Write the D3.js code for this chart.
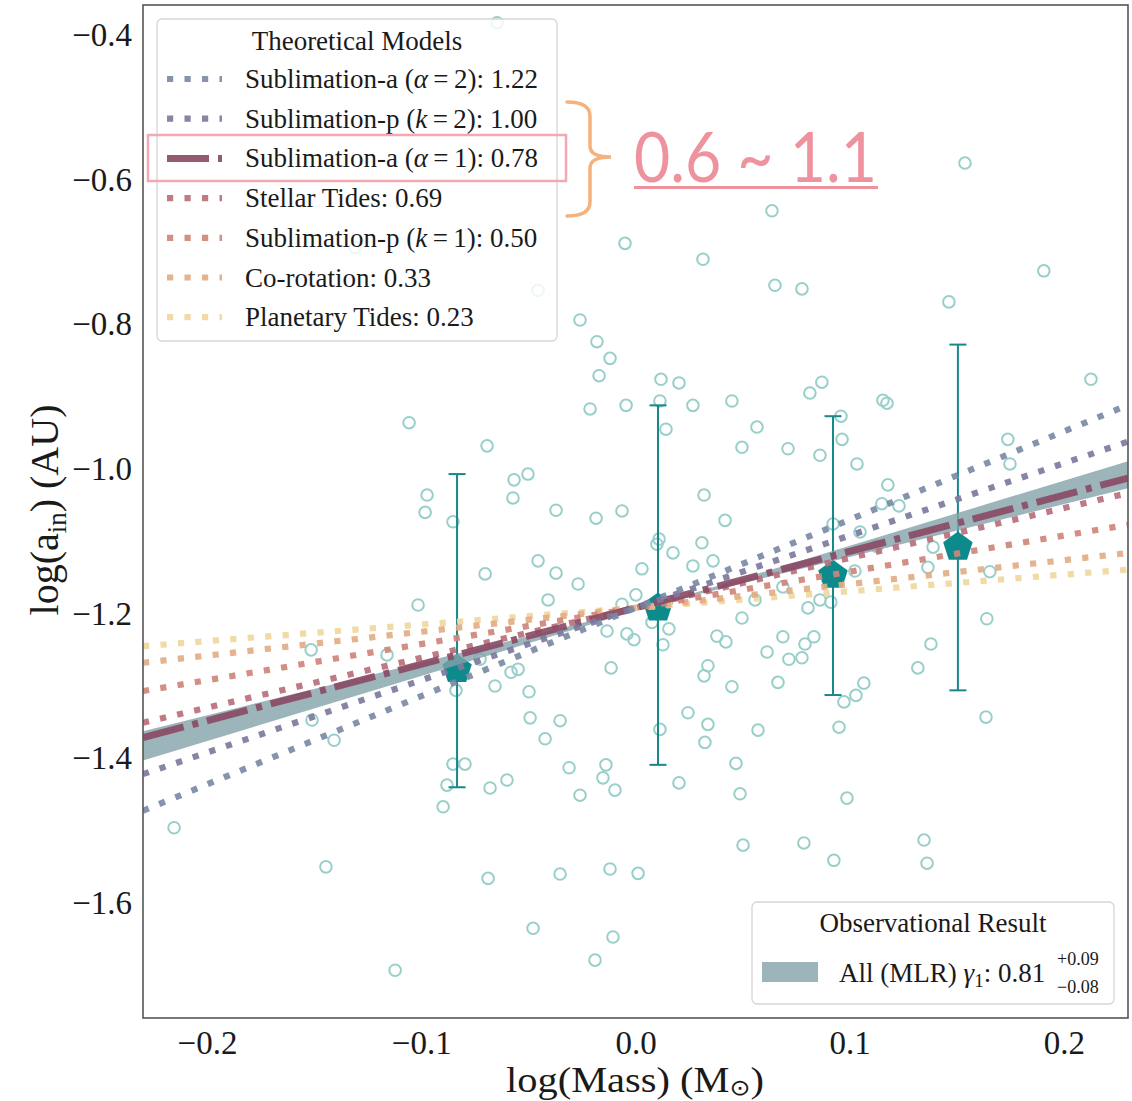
<!DOCTYPE html>
<html>
<head>
<meta charset="utf-8">
<script src="https://cdn.jsdelivr.net/npm/d3@7"></script>
<style>
  body { margin: 0; background: #fff; }
  svg { display: block; }
</style>
</head>
<body>
<svg id="chart" width="1132" height="1101"></svg>
<script>
// ---- Individual systems: log stellar mass vs log inner edge ----
const massLog = [-0.0646,0.1538,0.0637,-0.0049,0.0315,0.0651,0.0777,0.1463,0.1906,-0.0455,-0.1309,-0.0259,-0.0180,-0.0119,-0.0170,-0.0212,-0.0044,-0.1057,-0.0693,-0.0973,-0.0982,-0.0852,-0.0567,-0.0502,-0.0572,-0.0371,-0.0184,-0.0063,-0.0455,-0.0702,-0.0371,-0.0268,-0.0408,-0.1015,0.0030,0.0002,-0.0063,-0.0133,-0.0040,-0.0007,-0.1514,-0.1160,-0.0726,-0.0581,-0.0548,-0.0114,0.0119,0.0203,0.0114,0.0268,0.0450,0.0142,0.0870,0.0814,0.1155,0.1174,0.0959,0.0567,0.0497,0.0712,0.0964,0.0861,0.1034,0.2126,0.1738,0.1748,0.1178,0.1150,0.1230,0.0320,0.0418,0.0110,0.0100,0.0310,0.0175,0.0922,0.1048,0.0268,0.0362,0.1127,0.1389,0.1365,0.1024,0.1654,0.0688,0.0558,0.0805,0.0912,0.0861,0.0077,0.0156,0.0128,0.0497,0.0380,0.0422,0.0688,0.0614,0.0833,0.0791,0.0716,0.0777,0.0338,0.0320,0.1640,0.1379,0.1318,-0.1510,-0.1407,-0.0838,-0.0656,-0.0497,-0.0492,-0.0352,-0.0422,-0.0852,-0.0796,-0.0880,-0.0679,-0.0600,-0.0898,-0.0310,-0.0138,-0.0152,-0.0096,-0.0259,-0.2154,-0.1445,-0.0688,-0.0352,-0.0119,0.0012,-0.0478,-0.0105,-0.0189,-0.1122,0.0450,0.0665,0.0245,0.0338,0.0324,0.0114,0.0572,0.0469,0.0203,0.0488,0.0950,0.0973,0.1029,0.1066,0.1636,0.0987,0.0502,0.0786,0.0926,0.1347,0.1361];
const aInLog = [-0.383,-0.577,-0.643,-0.688,-0.710,-0.746,-0.751,-0.769,-0.726,-0.753,-0.694,-0.794,-0.824,-0.847,-0.871,-0.917,-0.912,-0.936,-0.968,-1.036,-1.060,-1.073,-1.015,-1.007,-1.040,-1.057,-1.068,-1.058,-1.127,-1.145,-1.144,-1.159,-1.181,-1.188,-1.138,-1.174,-1.187,-1.224,-1.228,-1.236,-1.250,-1.257,-1.263,-1.281,-1.277,-1.275,-0.876,-0.881,-0.906,-0.912,-0.906,-0.945,-0.880,-0.895,-0.905,-0.909,-0.927,-0.942,-0.970,-0.972,-0.959,-0.981,-0.993,-0.876,-0.959,-0.993,-1.022,-1.048,-1.051,-1.036,-1.071,-1.097,-1.104,-1.102,-1.116,-1.076,-1.087,-1.134,-1.127,-1.107,-1.108,-1.136,-1.141,-1.142,-1.163,-1.181,-1.192,-1.184,-1.181,-1.212,-1.221,-1.243,-1.206,-1.231,-1.239,-1.232,-1.253,-1.232,-1.242,-1.263,-1.261,-1.272,-1.286,-1.207,-1.242,-1.275,-1.347,-1.375,-1.306,-1.300,-1.308,-1.344,-1.348,-1.373,-1.408,-1.408,-1.437,-1.441,-1.430,-1.467,-1.413,-1.409,-1.427,-1.444,-1.451,-1.496,-1.550,-1.566,-1.560,-1.553,-1.559,-1.635,-1.647,-1.679,-1.693,-1.301,-1.295,-1.337,-1.353,-1.378,-1.360,-1.361,-1.407,-1.434,-1.449,-1.357,-1.322,-1.313,-1.296,-1.343,-1.455,-1.520,-1.517,-1.541,-1.513,-1.545];

// ---- Binned medians with spread ----
const binMass   = [-0.0833, 0.0105, 0.0922, 0.1505];
const binCenter = [-1.277, -1.192, -1.147, -1.108];
const binUpper  = [-1.007, -0.912, -0.927, -0.828];
const binLower  = [-1.440, -1.409, -1.3125, -1.306];

// ---- Theoretical slopes ----
const modelNames  = ["Sublimation-a (*α*\u2009=\u20092)", "Sublimation-p (*k*\u2009=\u20092)", "Sublimation-a (*α*\u2009=\u20091)",
                     "Stellar Tides", "Sublimation-p (*k*\u2009=\u20091)", "Co-rotation", "Planetary Tides"];
const modelSlopes = [1.22, 1.00, 0.78, 0.69, 0.50, 0.33, 0.23];
const modelPivot  = [0.0, -1.192];

// ---- Observed relation (MLR) ----
const obsSlope = 0.81, obsPlus = 0.09, obsMinus = 0.08;
const obsPivot = [0.009, -1.188];

const xTicks = [-0.2, -0.1, 0.0, 0.1, 0.2];
const yTicks = [-0.4, -0.6, -0.8, -1.0, -1.2, -1.4, -1.6];

// ---- styling ----
const modelColors = ["#7b8aa5", "#7d7a9e", "#8a4c65", "#b8707c", "#d0857a", "#e2ad86", "#efd79e"];
const serif = "'Liberation Serif','Times New Roman',serif";

const svg = d3.select("#chart");
const plot = { left: 143, right: 1128, top: 5, bottom: 1018 };
const x = d3.scaleLinear().domain([-0.2299, 0.2299]).range([plot.left, plot.right]);
const y = d3.scaleLinear().domain([-1.759, -0.3585]).range([plot.bottom, plot.top]);

svg.append("defs").append("clipPath").attr("id", "plotClip")
  .append("rect").attr("x", plot.left).attr("y", plot.top)
  .attr("width", plot.right - plot.left).attr("height", plot.bottom - plot.top);

const inner = svg.append("g").attr("clip-path", "url(#plotClip)");

// scatter of individual systems
inner.append("g").selectAll("circle").data(massLog.map((m, i) => [m, aInLog[i]]))
  .join("circle")
  .attr("cx", d => x(d[0])).attr("cy", d => y(d[1])).attr("r", 5.8)
  .attr("fill", "none").attr("stroke", "#99cfca").attr("stroke-width", 2);

// binned medians: error bars + pentagons
const bins = binMass.map((m, i) => ({ m, c: binCenter[i], lo: binLower[i], hi: binUpper[i] }));
const eb = inner.append("g").attr("stroke", "#17878a").attr("stroke-width", 2);
eb.selectAll("line.v").data(bins).join("line").attr("class", "v")
  .attr("x1", d => x(d.m)).attr("x2", d => x(d.m)).attr("y1", d => y(d.lo)).attr("y2", d => y(d.hi));
eb.selectAll("line.cu").data(bins).join("line").attr("class", "cu")
  .attr("x1", d => x(d.m) - 8.5).attr("x2", d => x(d.m) + 8.5).attr("y1", d => y(d.hi)).attr("y2", d => y(d.hi));
eb.selectAll("line.cl").data(bins).join("line").attr("class", "cl")
  .attr("x1", d => x(d.m) - 8.5).attr("x2", d => x(d.m) + 8.5).attr("y1", d => y(d.lo)).attr("y2", d => y(d.lo));

const pentagon = {
  draw(ctx, size) {
    const r = Math.sqrt(size / (2.5 * Math.sin(2 * Math.PI / 5)));
    for (let k = 0; k < 5; k++) {
      const a = -Math.PI / 2 + k * 2 * Math.PI / 5;
      const px = r * Math.cos(a), py = r * Math.sin(a);
      if (k === 0) ctx.moveTo(px, py); else ctx.lineTo(px, py);
    }
    ctx.closePath();
  }
};
const pentR = 15.5;
inner.append("g").selectAll("path").data(bins).join("path")
  .attr("transform", d => `translate(${x(d.m)},${y(d.c)})`)
  .attr("d", d3.symbol().type(pentagon).size(2.5 * Math.sin(2 * Math.PI / 5) * pentR * pentR))
  .attr("fill", "#0d8a8c");

// observed relation uncertainty band (bow-tie between slope limits)
const [xmin, xmax] = x.domain();
const bandX = [xmin, obsPivot[0], xmax];
const lineAt = (s, p, xv) => p[1] + s * (xv - p[0]);
inner.append("path")
  .datum(bandX)
  .attr("d", d3.area()
    .x(d => x(d))
    .y0(d => y(Math.min(lineAt(obsSlope - obsMinus, obsPivot, d), lineAt(obsSlope + obsPlus, obsPivot, d))))
    .y1(d => y(Math.max(lineAt(obsSlope - obsMinus, obsPivot, d), lineAt(obsSlope + obsPlus, obsPivot, d)))))
  .attr("fill", "#82a2aa").attr("fill-opacity", 0.8);

// theoretical model lines, drawn from lowest slope upwards
const dotted = "6.2 11.3", dashDot = "42 9 6 9";
const models = modelSlopes.map((s, i) => ({ s, i, name: modelNames[i], color: modelColors[i], dash: i === 2 ? dashDot : dotted, w: i === 2 ? 7 : 6.2 }));
const lineGen = d3.line().x(d => x(d[0])).y(d => y(d[1]));
inner.append("g").selectAll("path").data(models.slice().reverse()).join("path")
  .attr("d", d => lineGen([[xmin, lineAt(d.s, modelPivot, xmin)], [xmax, lineAt(d.s, modelPivot, xmax)]]))
  .attr("fill", "none").attr("stroke", d => d.color).attr("stroke-width", d => d.w)
  .attr("stroke-dasharray", d => d.dash).attr("stroke-opacity", 0.92);

// frame
svg.append("rect").attr("x", plot.left).attr("y", plot.top)
  .attr("width", plot.right - plot.left).attr("height", plot.bottom - plot.top)
  .attr("fill", "none").attr("stroke", "#555").attr("stroke-width", 1.6);

// axes
const fmt = d3.format(".1f");
const gx = svg.append("g").attr("transform", `translate(0,${plot.bottom})`)
  .call(d3.axisBottom(x).tickValues(xTicks).tickFormat(fmt).tickSize(0).tickPadding(12.5));
const gy = svg.append("g").attr("transform", `translate(${plot.left},0)`)
  .call(d3.axisLeft(y).tickValues(yTicks).tickFormat(fmt).tickSize(0).tickPadding(11));
[gx, gy].forEach(g => {
  g.select(".domain").remove();
  g.attr("font-family", serif).attr("font-size", 33);
  g.selectAll("text").attr("fill", "#1a1a1a");
});

// axis titles
const xl = svg.append("text").attr("x", 635).attr("y", 1092).attr("text-anchor", "middle")
  .attr("font-family", serif).attr("font-size", 35.5).attr("fill", "#1a1a1a")
  .attr("textLength", 258).attr("lengthAdjust", "spacingAndGlyphs");
xl.append("tspan").text("log(Mass) (M");
xl.append("tspan").attr("dy", 3).attr("font-size", 22).attr("font-family", "'DejaVu Sans',sans-serif").text("\u2299");
xl.append("tspan").attr("dy", -3).text(")");

const yl = svg.append("text").attr("transform", "translate(58,510) rotate(-90)").attr("text-anchor", "middle")
  .attr("font-family", serif).attr("font-size", 40).attr("fill", "#1a1a1a");
yl.append("tspan").text("log(a");
yl.append("tspan").attr("dy", 8).attr("font-size", 27).text("in");
yl.append("tspan").attr("dy", -8).text(") (AU)");

// rich text helper: *...* segments in italics
function richText(sel, str) {
  str.split("*").forEach((part, k) => {
    if (!part) return;
    const t = sel.append("tspan").text(part);
    if (k % 2 === 1) t.attr("font-style", "italic");
  });
}

// ---- Theoretical Models legend ----
const lg = svg.append("g");
lg.append("rect").attr("x", 157).attr("y", 19).attr("width", 400).attr("height", 322).attr("rx", 5)
  .attr("fill", "#fff").attr("fill-opacity", 0.82).attr("stroke", "#d6d6d6").attr("stroke-width", 1.3);
lg.append("text").attr("x", 357).attr("y", 50).attr("text-anchor", "middle")
  .attr("font-family", serif).attr("font-size", 27).attr("fill", "#1a1a1a").text("Theoretical Models");
const rowY = i => 79 + i * 39.7;
const rows = lg.selectAll("g.row").data(models).join("g").attr("class", "row");
rows.append("line").attr("x1", 167).attr("x2", 222).attr("y1", d => rowY(d.i)).attr("y2", d => rowY(d.i))
  .attr("stroke", d => d.color).attr("stroke-width", d => d.w).attr("stroke-dasharray", d => d.dash)
  .attr("stroke-opacity", 0.92);
rows.each(function (d) {
  const t = d3.select(this).append("text").attr("x", 245).attr("y", rowY(d.i) + 9)
    .attr("font-family", serif).attr("font-size", 27).attr("fill", "#1a1a1a");
  richText(t, d.name + ": " + d3.format(".2f")(d.s));
});

// highlight of the α = 1 entry, brace and range note
svg.append("rect").attr("x", 148).attr("y", 135).attr("width", 418).attr("height", 46)
  .attr("fill", "none").attr("stroke", "#f2a9b3").attr("stroke-width", 2.5);
svg.append("path")
  .attr("d", "M567,102 Q590,102 590,116 L590,146 Q590,157 611,157 Q590,157 590,168 L590,202 Q590,216 567,216")
  .attr("fill", "none").attr("stroke", "#f6b27c").attr("stroke-width", 3.5).attr("stroke-linecap", "round");
svg.append("text").attr("x", 634).attr("y", 182)
  .attr("font-family", "Lato,'DejaVu Sans',sans-serif").attr("font-size", 70)
  .attr("textLength", 243).attr("lengthAdjust", "spacingAndGlyphs")
  .attr("fill", "#ee939e").text("0.6 ~ 1.1");
svg.append("line").attr("x1", 634).attr("x2", 878).attr("y1", 187.5).attr("y2", 187.5)
  .attr("stroke", "#ee939e").attr("stroke-width", 3);

// ---- Observational Result legend ----
const og = svg.append("g");
og.append("rect").attr("x", 752).attr("y", 902).attr("width", 362).attr("height", 102).attr("rx", 5)
  .attr("fill", "#fff").attr("fill-opacity", 0.82).attr("stroke", "#d6d6d6").attr("stroke-width", 1.3);
og.append("text").attr("x", 933).attr("y", 932).attr("text-anchor", "middle")
  .attr("font-family", serif).attr("font-size", 27).attr("fill", "#1a1a1a").text("Observational Result");
og.append("rect").attr("x", 762).attr("y", 962).attr("width", 56).attr("height", 20)
  .attr("fill", "#82a2aa").attr("fill-opacity", 0.8);
const ot = og.append("text").attr("x", 839).attr("y", 982)
  .attr("font-family", serif).attr("font-size", 27).attr("fill", "#1a1a1a");
ot.append("tspan").text("All (MLR) ");
ot.append("tspan").attr("font-style", "italic").text("γ");
ot.append("tspan").attr("dy", 5).attr("font-size", 19).text("1");
ot.append("tspan").attr("dy", -5).text(": " + d3.format(".2f")(obsSlope));
og.append("text").attr("x", 1057).attr("y", 965).attr("font-family", serif).attr("font-size", 18)
  .attr("fill", "#1a1a1a").text("+" + d3.format(".2f")(obsPlus));
og.append("text").attr("x", 1057).attr("y", 993).attr("font-family", serif).attr("font-size", 18)
  .attr("fill", "#1a1a1a").text("\u2212" + d3.format(".2f")(obsMinus));
</script>
</body>
</html>
